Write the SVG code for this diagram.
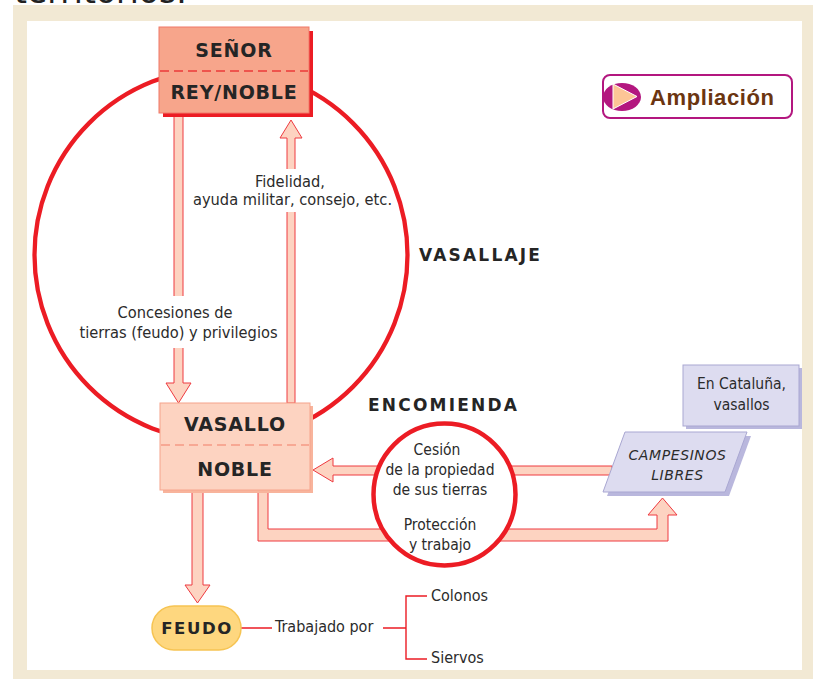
<svg xmlns="http://www.w3.org/2000/svg" width="813" height="679" viewBox="0 0 813 679">
<style>
.lbl{font-family:"DejaVu Sans Condensed","DejaVu Sans",sans-serif;font-stretch:condensed;font-size:15.5px;fill:#2b2b2b;text-anchor:middle}
.lbl2{font-size:16.3px}
.ttl{font-family:"DejaVu Sans",Verdana,sans-serif;font-weight:bold;font-size:19px;fill:#252525;text-anchor:middle;letter-spacing:0.8px}
.big{font-family:"DejaVu Sans",Verdana,sans-serif;font-weight:bold;font-size:17px;fill:#252525;letter-spacing:2.2px}
.arr{fill:#fdd3c1;stroke:#ee3a40;stroke-width:1}
.ln{fill:none;stroke:#ec1c24;stroke-width:1.4}
.lav{fill:#dddcf0;stroke:#a9a7d2;stroke-width:1}
.lavsh{fill:#b9b7dd}
</style>
<rect x="0" y="0" width="813" height="679" fill="#ffffff"/>
<text x="14" y="3" font-family="DejaVu Sans, sans-serif" font-size="33" fill="#222">territorios.</text>
<rect x="13" y="5" width="800" height="674" fill="#f2e9d4"/>
<rect x="27" y="21" width="775" height="649" fill="#ffffff"/>

<g id="vasallaje-circle">
<circle cx="221" cy="255" r="186.5" fill="none" stroke="#ec1c24" stroke-width="4.3"/>
</g>

<g id="connectors">
<path class="arr" d="M174,113 L174,383 L166,383 L178.5,403 L191,383 L183,383 L183,113 Z"/>
<path class="arr" d="M287,403 L287,138 L280,138 L291,120 L302,138 L295,138 L295,403 Z"/>
<rect x="270" y="169" width="40" height="43" fill="#ffffff"/>
<rect x="160" y="296" width="40" height="52" fill="#ffffff"/>
<text class="lbl lbl2" x="290" y="187">Fidelidad,</text>
<text class="lbl lbl2" x="292.5" y="205">ayuda militar, consejo, etc.</text>
<text class="lbl lbl2" x="175" y="318">Concesiones de</text>
<text class="lbl lbl2" x="178.5" y="338">tierras (feudo) y privilegios</text>
<path class="arr" d="M612,466 L333,466 L333,458 L313,470 L333,482 L333,475 L612,475 Z"/>
<path class="arr" d="M258,490 L258,541 L668,541 L668,515 L677,515 L662.5,498 L648,515 L657,515 L657,529 L268,529 L268,490 Z"/>
<path class="arr" d="M192,490 L192,585 L185,585 L197.5,603 L210,585 L203,585 L203,490 Z"/>
<path class="ln" d="M241,628 H272 M383,628 H406 M427,596 H406 V659 H427"/>
</g>

<g id="senor">
<rect x="163" y="31" width="150" height="86" fill="#ec1c24"/>
<rect x="159" y="27" width="150" height="86" fill="#f7a58b" stroke="#f07868" stroke-width="1"/>
<line x1="160" y1="71" x2="308" y2="71" stroke="#ec3a3a" stroke-width="1.3" stroke-dasharray="9 5"/>
<text class="ttl" x="234" y="57">SEÑOR</text>
<text class="ttl" x="234" y="99">REY/NOBLE</text>
</g>

<g id="vasallo">
<rect x="163" y="406" width="150" height="87" fill="#f8b49c"/>
<rect x="160" y="403" width="150" height="87" fill="#fdd3c1" stroke="#f6a48c" stroke-width="1"/>
<line x1="161" y1="445" x2="309" y2="445" stroke="#f59a85" stroke-width="1.3" stroke-dasharray="9 5"/>
<text class="ttl" x="235" y="431">VASALLO</text>
<text class="ttl" x="235" y="476">NOBLE</text>
</g>

<g id="vasallaje-label">
<text class="big" x="419" y="261">VASALLAJE</text>
</g>

<g id="encomienda">
<text class="big" x="368" y="411">ENCOMIENDA</text>
<circle cx="444.5" cy="494.5" r="71" fill="#ffffff" stroke="#ec1c24" stroke-width="4.5"/>
<text class="lbl" x="437" y="455">Cesión</text>
<text class="lbl" x="440" y="475">de la propiedad</text>
<text class="lbl" x="440" y="495">de sus tierras</text>
<text class="lbl" x="440" y="530">Protección</text>
<text class="lbl" x="440" y="550">y trabajo</text>
</g>

<g id="campesinos">
<polygon class="lavsh" points="629,436 751,436 729,496 607,496"/>
<polygon class="lav" points="625,432 747,432 725,492 603,492"/>
<text x="677.5" y="460" font-family="DejaVu Sans, sans-serif" font-style="italic" font-size="14" fill="#2b2b2b" text-anchor="middle" letter-spacing="0.6">CAMPESINOS</text>
<text x="677.5" y="480" font-family="DejaVu Sans, sans-serif" font-style="italic" font-size="14" fill="#2b2b2b" text-anchor="middle" letter-spacing="0.6">LIBRES</text>
</g>

<g id="cataluna">
<rect class="lavsh" x="686" y="368" width="116" height="61"/>
<rect class="lav" x="683" y="365" width="116" height="61"/>
<text class="lbl" x="741.5" y="389">En Cataluña,</text>
<text class="lbl" x="741.5" y="410">vasallos</text>
</g>

<g id="feudo">
<rect x="152" y="606" width="89" height="44" rx="22" fill="#fed77f" stroke="#f6c453" stroke-width="1.5"/>
<text class="ttl" x="197" y="634" style="font-size:16.5px;letter-spacing:1.6px">FEUDO</text>
</g>

<g id="trabajado">
<text class="lbl" x="275" y="632" style="text-anchor:start;font-size:16px">Trabajado por</text>
<text class="lbl" x="431" y="601" style="text-anchor:start;font-size:16px">Colonos</text>
<text class="lbl" x="431" y="663" style="text-anchor:start;font-size:16px">Siervos</text>
</g>

<g id="ampliacion">
<rect x="603" y="75" width="189" height="43" rx="7" fill="#ffffff" stroke="#b3177f" stroke-width="2"/>
<ellipse cx="622" cy="97" rx="19" ry="14" fill="#b3177f"/>
<polygon points="613,84 613,109 637,96.5" fill="#fdc596" stroke="#ffffff" stroke-width="1"/>
<text x="650" y="105" font-family="Liberation Sans, Arial, sans-serif" font-weight="bold" font-size="22" fill="#6b3510" letter-spacing="0.6">Ampliación</text>
</g>
</svg>
